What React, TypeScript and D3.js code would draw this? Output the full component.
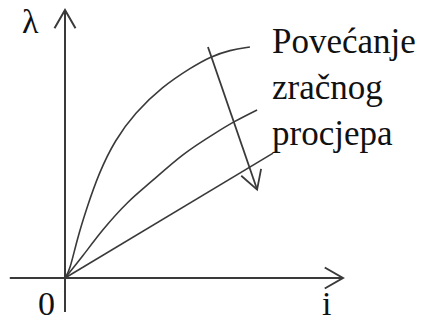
import React from "react";
import * as d3 from "d3";

// Data (abstract units, 0..100 on both axes)
const topCurve: [number, number][] = [
  [0, 0], [1.8, 3.0], [4.3, 14.2], [8.0, 26.5], [12.3, 39.2], [18.1, 51.5], [25.4, 61.6],
  [35.1, 71.3], [46.0, 78.7], [52.5, 82.5], [59.8, 85.1], [67.0, 86.2],
];
const midCurve: [number, number][] = [
  [0, 0], [6.2, 7.8], [13.4, 17.9], [23.2, 29.1], [30.8, 35.4], [42.8, 46.6], [55.1, 54.5], [60.9, 58.2], [69.6, 62.7],
];
const lowCurve: [number, number][] = [
  [0, 0], [75.4, 46.6],
];
const trendArrow: [number, number][] = [
  [51.8, 86.2], [69.6, 33.0],
];
const xAxisExtent = [-20, 100.7];
const yAxisExtent = [-12.7, 100];
const labelLines = ["Povećanje", "zračnog", "procjepa"];
const yLabel = "λ";
const xLabel = "i";
const originLabel = "0";

const W = 421;
const H = 322;

export default function App() {
  const x = d3.scaleLinear().domain([0, 100]).range([65, 341]);
  const y = d3.scaleLinear().domain([0, 100]).range([278, 10]);

  const line = d3
    .line<[number, number]>()
    .x((d) => x(d[0]))
    .y((d) => y(d[1]))
    .curve(d3.curveBasis);

  const head = (tip: [number, number], from: [number, number], len = 21, ang = (30 * Math.PI) / 180) => {
    const dx = from[0] - tip[0];
    const dy = from[1] - tip[1];
    const base = Math.atan2(dy, dx);
    const a1 = base + ang;
    const a2 = base - ang;
    return `M${tip[0] + len * Math.cos(a1)},${tip[1] + len * Math.sin(a1)}L${tip[0]},${tip[1]}L${tip[0] + len * Math.cos(a2)},${tip[1] + len * Math.sin(a2)}`;
  };

  const xa0: [number, number] = [x(xAxisExtent[0]), y(0)];
  const xa1: [number, number] = [x(xAxisExtent[1]), y(0)];
  const ya0: [number, number] = [x(0), y(yAxisExtent[0])];
  const ya1: [number, number] = [x(0), y(yAxisExtent[1])];
  const ar0: [number, number] = [x(trendArrow[0][0]), y(trendArrow[0][1])];
  const ar1: [number, number] = [x(trendArrow[1][0]), y(trendArrow[1][1])];

  const stroke = "#3a3a3a";
  const font = "'Liberation Serif', serif";

  return (
    <svg width={W} height={H} style={{ position: "absolute", left: 0, top: 0, background: "#fff" }}>
      <rect width={W} height={H} fill="#fff" />
      {/* axes */}
      <line x1={xa0[0]} y1={xa0[1]} x2={xa1[0]} y2={xa1[1]} stroke={stroke} strokeWidth={2} />
      <path d={head(xa1, xa0)} fill="none" stroke={stroke} strokeWidth={2} />
      <line x1={ya0[0]} y1={ya0[1]} x2={ya1[0]} y2={ya1[1]} stroke={stroke} strokeWidth={2} />
      <path d={head(ya1, ya0)} fill="none" stroke={stroke} strokeWidth={2} />
      {/* curves */}
      {[topCurve, midCurve, lowCurve].map((c, i) => (
        <path key={i} d={line(c) || ""} fill="none" stroke={stroke} strokeWidth={1.6} />
      ))}
      {/* trend arrow */}
      <line x1={ar0[0]} y1={ar0[1]} x2={ar1[0]} y2={ar1[1]} stroke={stroke} strokeWidth={1.8} />
      <path d={head(ar1, ar0)} fill="none" stroke={stroke} strokeWidth={1.8} />
      {/* labels */}
      <text x={22} y={33} fontFamily={font} fontSize={34} fill="#111">{yLabel}</text>
      <text x={38} y={315} fontFamily={font} fontSize={34} fill="#111">{originLabel}</text>
      <text x={322} y={315} fontFamily={font} fontSize={34} fill="#111">{xLabel}</text>
      {labelLines.map((t, i) => (
        <text key={t} x={272} y={53 + i * 46} fontFamily={font} fontSize={35} fill="#111">{t}</text>
      ))}
    </svg>
  );
}
